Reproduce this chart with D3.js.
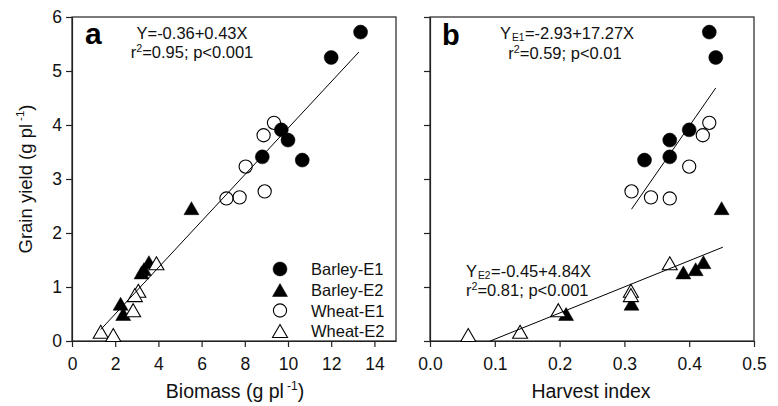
<!DOCTYPE html>
<html>
<head>
<meta charset="utf-8">
<script src="https://cdn.jsdelivr.net/npm/d3@7"></script>
<style>
  html, body { margin: 0; padding: 0; background: #fff; }
  svg { display: block; font-family: "Liberation Sans", Arial, sans-serif; }
</style>
</head>
<body>
<svg id="chart" width="778" height="406"></svg>
<script>
// ---- data ----
const barleyE1Biomass = [13.36, 12.0, 9.69, 10.0, 8.81, 10.66];
const barleyE1Yield   = [5.72, 5.25, 3.91, 3.72, 3.41, 3.35];
const barleyE1HI      = [0.431, 0.441, 0.400, 0.370, 0.370, 0.331];

const barleyE2Biomass = [5.53, 3.56, 3.33, 3.22, 2.25, 2.37];
const barleyE2Yield   = [2.46, 1.46, 1.33, 1.27, 0.69, 0.50];
const barleyE2HI      = [0.450, 0.422, 0.410, 0.391, 0.311, 0.210];

const wheatE1Biomass  = [9.35, 8.87, 8.04, 7.15, 7.76, 8.92];
const wheatE1Yield    = [4.04, 3.81, 3.23, 2.64, 2.66, 2.77];
const wheatE1HI       = [0.431, 0.421, 0.400, 0.370, 0.341, 0.311];

const wheatE2Biomass  = [3.91, 3.07, 2.91, 2.83, 1.33, 1.91];
const wheatE2Yield    = [1.44, 0.93, 0.85, 0.57, 0.17, 0.11];
const wheatE2HI       = [0.370, 0.310, 0.310, 0.198, 0.139, 0.059];

// regression fits: [intercept, slope] and x extent
const fitA = [-0.36, 0.43];      const fitARange = [1.33, 13.28];
const fitBE1 = [-2.93, 17.27];   const fitBE1Range = [0.311, 0.441];
const fitBE2 = [-0.45, 4.84];    const fitBE2Range = [0.093, 0.452];

const seriesNames = ["Barley-E1", "Barley-E2", "Wheat-E1", "Wheat-E2"];
const yTicks = [0, 1, 2, 3, 4, 5, 6];
const xTicksA = [0, 2, 4, 6, 8, 10, 12, 14];
const xTicksB = [0, 0.1, 0.2, 0.3, 0.4, 0.5];

// ---- drawing ----
const svg = d3.select("#chart");
const INK = "#222";
const plotTop = 17, plotBottom = 341;
const y = d3.scaleLinear().domain([0, 6]).range([plotBottom, plotTop]);
const xA = d3.scaleLinear().domain([0, 15]).range([72, 396]);
const xB = d3.scaleLinear().domain([0, 0.5]).range([430, 754]);

const styles = [
  {shape: "circle", fill: "#000", stroke: "#000"},
  {shape: "triangle", fill: "#000", stroke: "#000"},
  {shape: "circle", fill: "none", stroke: "#000"},
  {shape: "triangle", fill: "#fff", stroke: "#000"}
];
const triPath = (w, h) => `M0,${-h/2}L${w/2},${h/2}L${-w/2},${h/2}Z`;

function marker(g, cx, cy, st) {
  if (st.shape === "circle") {
    const filled = st.fill !== "none";
    g.append("circle").attr("cx", cx).attr("cy", cy)
      .attr("r", filled ? 7 : 6.6)
      .attr("fill", st.fill).attr("stroke", st.stroke)
      .attr("stroke-width", filled ? 0.5 : 1.1);
  } else {
    g.append("path").attr("d", triPath(15, 13))
      .attr("transform", `translate(${cx},${cy})`)
      .attr("fill", st.fill).attr("stroke", st.stroke)
      .attr("stroke-width", st.fill === "#000" ? 0.5 : 1.1)
      .attr("stroke-linejoin", "miter");
  }
}

function frame(x) {
  const [x0, x1] = x.range();
  svg.append("rect").attr("x", x0).attr("y", plotTop)
    .attr("width", x1 - x0).attr("height", plotBottom - plotTop)
    .attr("fill", "none").attr("stroke", INK).attr("stroke-width", 1.2);
}

function axes(x, ticks, fmt, showYLabels) {
  const gx = svg.append("g").attr("transform", `translate(0,${plotBottom})`)
    .call(d3.axisBottom(x).tickValues(ticks).tickFormat(fmt).tickSize(6).tickPadding(11).tickSizeOuter(0));
  gx.select(".domain").attr("stroke", INK).attr("stroke-width", 1.2);
  gx.selectAll(".tick line").attr("stroke", INK).attr("stroke-width", 1.2);
  gx.selectAll(".tick text").attr("font-size", 17.5).attr("fill", "#111")
    .attr("font-family", "Liberation Sans, Arial, sans-serif");

  const gy = svg.append("g").attr("transform", `translate(${x.range()[0]},0)`)
    .call(d3.axisLeft(y).tickValues(yTicks).tickSize(6).tickPadding(4).tickSizeOuter(0)
      .tickFormat(showYLabels ? d3.format("d") : ""));
  gy.select(".domain").attr("stroke", INK).attr("stroke-width", 1.2);
  gy.selectAll(".tick line").attr("stroke", INK).attr("stroke-width", 1.2);
  gy.selectAll(".tick text").attr("font-size", 17.5).attr("fill", "#111")
    .attr("font-family", "Liberation Sans, Arial, sans-serif");
}

function fitLine(x, fit, range) {
  const line = d3.line().x(d => x(d)).y(d => y(fit[0] + fit[1] * d));
  svg.append("path").datum(range).attr("d", line)
    .attr("fill", "none").attr("stroke", "#000").attr("stroke-width", 1);
}

function points(x, xs, ys, st) {
  const g = svg.append("g");
  xs.forEach((v, i) => marker(g, x(v), y(ys[i]), st));
}

// Panel a
frame(xA);
axes(xA, xTicksA, d3.format("d"), true);
points(xA, barleyE1Biomass, barleyE1Yield, styles[0]);
points(xA, barleyE2Biomass, barleyE2Yield, styles[1]);
points(xA, wheatE1Biomass, wheatE1Yield, styles[2]);
points(xA, wheatE2Biomass, wheatE2Yield, styles[3]);
fitLine(xA, fitA, fitARange);

// Panel b
frame(xB);
axes(xB, xTicksB, d3.format(".1f"), false);
points(xB, barleyE1HI, barleyE1Yield, styles[0]);
points(xB, barleyE2HI, barleyE2Yield, styles[1]);
points(xB, wheatE1HI, wheatE1Yield, styles[2]);
points(xB, wheatE2HI, wheatE2Yield, styles[3]);
fitLine(xB, fitBE1, fitBE1Range);
fitLine(xB, fitBE2, fitBE2Range);

// Panel letters
svg.append("text").attr("x", 85).attr("y", 44).attr("font-size", 30)
  .attr("font-weight", "bold").text("a");
svg.append("text").attr("x", 442).attr("y", 45).attr("font-size", 29)
  .attr("font-weight", "bold").text("b");

// Equations
const EQ = 16.5;
function eqText(xp, yp, anchor, parts) {
  const t = svg.append("text").attr("x", xp).attr("y", yp)
    .attr("font-size", EQ).attr("text-anchor", anchor).attr("fill", "#111");
  parts.forEach(p => {
    const s = t.append("tspan").text(p.t);
    if (p.sup) s.attr("font-size", EQ * 0.65).attr("dy", -EQ * 0.38);
    if (p.sub) s.attr("font-size", EQ * 0.62).attr("dy", EQ * 0.15).attr("dx", 1);
    if (p.back) s.attr("dy", p.back);
    if (p.gap) s.attr("dx", p.gap);
  });
  return t;
}
eqText(192, 39, "middle", [{t: "Y=-0.36+0.43X"}]);
eqText(192, 58, "middle", [{t: "r"}, {t: "2", sup: true}, {t: "=0.95; p<0.001", back: EQ * 0.38}]);
eqText(567, 39, "middle", [{t: "Y"}, {t: "E1", sub: true}, {t: "=-2.93+17.27X", back: -EQ * 0.15, gap: 0.5}]);
eqText(565, 59, "middle", [{t: "r"}, {t: "2", sup: true}, {t: "=0.59; p<0.01", back: EQ * 0.38}]);
eqText(466, 276.5, "start", [{t: "Y"}, {t: "E2", sub: true}, {t: "=-0.45+4.84X", back: -EQ * 0.15, gap: 0.5}]);
eqText(466, 296, "start", [{t: "r"}, {t: "2", sup: true}, {t: "=0.81; p<0.001", back: EQ * 0.38}]);

// Legend (panel a)
const legendRowY = [269, 290, 310.5, 331];
const lg = svg.append("g");
seriesNames.forEach((name, i) => {
  marker(lg, 280, legendRowY[i], styles[i]);
  lg.append("text").attr("x", 311).attr("y", legendRowY[i] + 6)
    .attr("font-size", 16.5).attr("fill", "#111").text(name);
});

// Axis titles
const TT = 19.5;
function titleWithSup(t, pre, sup, post) {
  t.append("tspan").text(pre);
  t.append("tspan").text(sup).attr("font-size", TT * 0.62).attr("dy", -TT * 0.42).attr("dx", 3);
  t.append("tspan").text(post).attr("dy", TT * 0.42);
}
const tx = svg.append("text").attr("x", 235).attr("y", 398).attr("text-anchor", "middle")
  .attr("font-size", TT).attr("fill", "#111");
titleWithSup(tx, "Biomass (g pl", "-1", ")");
svg.append("text").attr("x", 591).attr("y", 398).attr("text-anchor", "middle")
  .attr("font-size", TT).attr("fill", "#111").text("Harvest index");
const ty = svg.append("text").attr("transform", "translate(32,179) rotate(-90)")
  .attr("text-anchor", "middle").attr("font-size", 18.5).attr("fill", "#111");
(function () {
  const s = 18.5;
  ty.append("tspan").text("Grain yield (g pl");
  ty.append("tspan").text("-1").attr("font-size", s * 0.62).attr("dy", -s * 0.42).attr("dx", 3);
  ty.append("tspan").text(")").attr("dy", s * 0.42);
})();
</script>
</body>
</html>
